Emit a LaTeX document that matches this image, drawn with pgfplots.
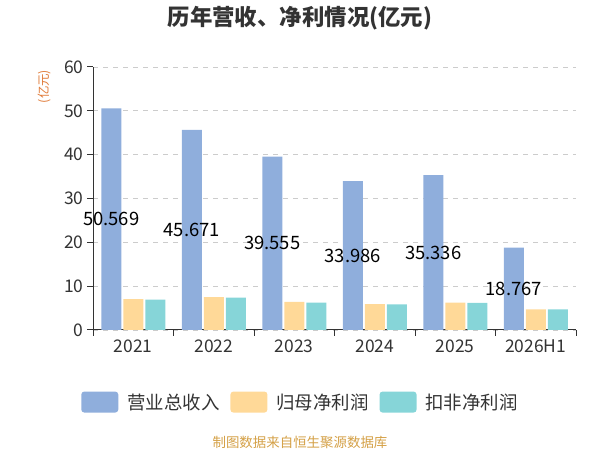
\documentclass[border=0pt]{standalone}
\usepackage{fontspec}
\setmainfont{Noto Sans CJK SC}
\usepackage{pgfplots}
\pgfplotsset{compat=1.18}
\definecolor{cRev}{HTML}{8FAEDC}
\definecolor{cNet}{HTML}{FFD998}
\definecolor{cDed}{HTML}{86D5D8}
\definecolor{cTxt}{HTML}{333333}
\definecolor{cUnit}{HTML}{E07B39}
\definecolor{cFoot}{HTML}{D4A046}
\definecolor{cGrid}{HTML}{CCCCCC}
\pgfplotsset{
  mybar/.style={ybar, bar width=20bp, draw=none, fill=#1,
    legend image code/.code={\fill[#1, rounded corners=3bp] (0bp,-10.5bp) rectangle (37bp,10.5bp);}},
}
\begin{document}
\begin{tikzpicture}[x=1bp,y=1bp]
\useasboundingbox (0,0) rectangle (600,450);
\begin{axis}[
  at={(93bp,120bp)}, anchor=south west,
  scale only axis, width=483bp, height=263bp,
  xmin=-0.5, xmax=5.5, ymin=0, ymax=60,
  axis lines*=left,
  axis line style={cTxt, line width=1bp},
  xtick={0,1,2,3,4,5},
  xticklabels={2021,2022,2023,2024,2025,2026H1},
  minor xtick={-0.5,0.5,1.5,2.5,3.5,4.5,5.5},
  ytick={0,10,20,30,40,50,60},
  tick align=outside,
  major tick length=6bp, minor tick length=6bp,
  major x tick style={draw=none},
  minor tick style={cTxt, line width=1bp},
  major y tick style={cTxt, line width=1bp},
  ymajorgrids,
  grid style={cGrid, line width=0.8bp, dash pattern=on 5bp off 5bp},
  tick label style={font=\fontsize{17.5}{20}\selectfont, text=cTxt},
  /pgf/number format/assume math mode=true,
  clip=false,
  legend columns=3,
  legend style={at={(0.4296,-0.274)}, anchor=center, draw=none, fill=none,
    font=\fontsize{18.5}{20}\selectfont, text=cTxt,
    /tikz/every odd column/.append style={column sep=7bp},
    /tikz/every even column/.append style={column sep=9bp}},
]
\addplot[mybar=cRev, bar shift=-22bp] coordinates {(0,50.569) (1,45.671) (2,39.555) (3,33.986) (4,35.336) (5,18.767)};
\addlegendentry{营业总收入}
\addplot[mybar=cNet, bar shift=0bp] coordinates {(0,7.07) (1,7.52) (2,6.39) (3,5.93) (4,6.24) (5,4.71)};
\addlegendentry{归母净利润}
\addplot[mybar=cDed, bar shift=22bp] coordinates {(0,6.92) (1,7.38) (2,6.24) (3,5.85) (4,6.16) (5,4.69)};
\addlegendentry{扣非净利润}
\addplot[forget plot, draw=none, mark=none, nodes near coords, point meta=explicit symbolic,
  nodes near coords align={center},
  every node near coord/.append style={font=\fontsize{18.5}{20}\selectfont, text=black, anchor=center}]
  coordinates {(-0.2733,25.2845)[50.569] (0.7267,22.8355)[45.671] (1.7267,19.7775)[39.555] (2.7267,16.993)[33.986] (3.7267,17.668)[35.336] (4.7267,9.3835)[18.767]};
\end{axis}
\node[font=\bfseries\fontsize{22.5}{26}\selectfont, text=cTxt] at (300,432) {历年营收、净利情况(亿元)};
\node[rotate=90, text=cUnit, font=\fontsize{12.5}{14}\selectfont] at (45,363.5) {(亿元)};
\node[text=cFoot, font=\fontsize{13.5}{16}\selectfont] at (300,8) {制图数据来自恒生聚源数据库};
\end{tikzpicture}
\end{document}
